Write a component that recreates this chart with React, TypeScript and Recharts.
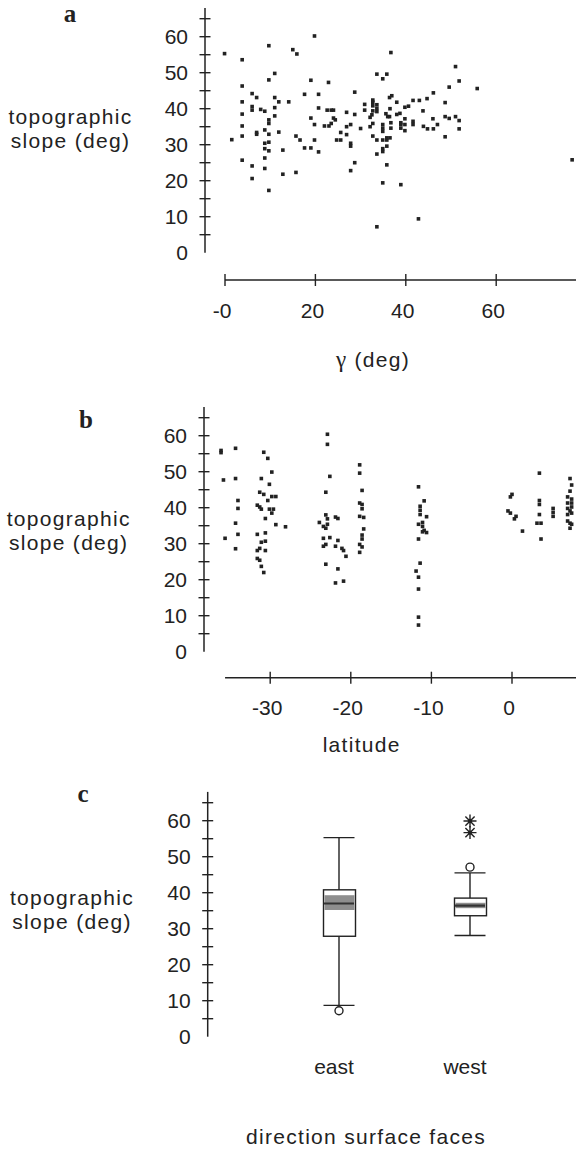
import React from "react"
import { ScatterChart, ComposedChart, Scatter, Bar, XAxis, YAxis, ReferenceLine } from "recharts"

const INK = "#222"
const FONT = '"Liberation Sans", Arial, Helvetica, sans-serif'

// shared slope axis (deg)
const slopeTicks = [0, 5, 10, 15, 20, 25, 30, 35, 40, 45, 50, 55, 60, 65]
const slopeTop = 68

// panel a: gamma (deg) vs slope
const gammaTicks = [0, 20, 40, 60]
const gammaTickLabels = ["-0", "20", "40", "60"]
const gammaPoints: [number, number][] = [
  [19.8, 60.2], [9.7, 57.5], [-0.1, 55.3], [15.0, 56.4], [15.9, 55.2], [36.7, 55.6], [3.8, 53.6], [51.0, 51.7],
  [11.0, 49.8], [9.7, 48.0], [33.6, 49.6], [35.8, 49.6], [34.9, 48.3], [19.0, 47.9], [22.9, 47.3], [51.8, 47.7],
  [3.8, 46.3], [49.6, 46.0], [55.8, 45.6], [28.7, 44.6], [46.1, 44.4], [6.0, 44.2], [17.6, 44.0], [20.7, 44.0],
  [7.0, 43.1], [11.0, 43.1], [36.4, 43.1], [36.9, 43.6], [44.7, 42.8], [3.8, 41.9], [11.9, 41.9], [14.1, 41.9],
  [32.7, 41.8], [38.0, 41.8], [41.6, 42.3], [43.0, 42.3], [48.7, 41.7], [32.7, 42.4],
  [6.0, 40.6], [6.0, 39.6], [7.9, 39.8], [8.8, 39.3], [11.0, 40.3], [30.9, 41.2], [32.7, 40.8], [33.6, 41.1],
  [33.6, 40.1], [32.7, 39.4], [33.6, 39.2], [20.7, 40.2], [22.6, 39.6], [23.5, 39.6], [24.0, 39.6], [36.5, 40.0],
  [39.8, 40.4], [40.6, 40.7], [43.8, 39.4], [38.7, 38.7],
  [3.8, 38.5], [11.0, 38.0], [26.9, 39.0], [28.7, 38.4], [30.9, 39.6], [32.1, 37.6], [32.5, 38.3], [35.6, 38.6],
  [36.0, 37.8], [38.0, 38.4], [19.0, 37.4], [24.0, 37.4], [24.4, 36.9], [9.7, 36.9], [9.7, 35.9], [39.8, 37.2],
  [38.9, 36.1], [39.8, 35.6], [41.6, 36.5], [41.6, 35.6], [46.0, 37.2], [48.7, 37.8], [49.6, 37.3], [51.0, 37.8],
  [51.8, 36.7], [36.4, 37.8],
  [3.8, 35.2], [19.8, 35.6], [22.0, 35.2], [23.0, 35.2], [23.5, 35.9], [27.8, 35.6], [26.9, 35.0], [30.0, 34.5],
  [32.1, 35.0], [32.7, 35.9], [34.9, 35.6], [34.9, 34.6], [34.9, 33.7], [36.7, 36.1], [36.7, 34.6], [38.9, 35.6],
  [38.9, 34.6], [39.8, 33.9], [43.9, 35.1], [44.8, 34.4], [46.1, 34.4], [47.0, 35.6], [51.8, 34.4],
  [8.8, 34.1], [7.0, 33.4], [7.0, 32.9], [9.7, 32.9], [11.9, 33.5], [3.8, 32.4], [1.5, 31.4], [15.7, 32.4],
  [16.6, 31.3], [19.8, 31.3], [25.6, 33.4], [26.9, 32.8], [24.7, 31.3], [25.6, 31.3], [32.7, 32.4], [33.6, 31.3],
  [35.8, 31.3], [34.9, 31.3], [35.8, 31.9], [36.5, 31.9], [48.7, 32.2],
  [8.8, 30.4], [9.7, 30.7], [8.8, 28.9], [9.7, 28.3], [27.8, 30.4], [27.8, 29.6], [35.8, 29.6], [34.9, 28.9],
  [34.9, 28.1], [17.6, 29.1], [19.0, 29.1], [12.8, 28.5], [20.7, 28.0], [8.8, 26.3], [33.6, 27.4], [3.8, 25.7],
  [76.8, 25.8], [28.7, 25.0], [6.0, 24.1], [8.8, 23.4], [35.8, 24.4], [27.8, 22.8], [12.8, 21.8], [15.7, 22.3],
  [6.0, 20.6], [34.9, 19.4], [38.9, 18.9], [9.7, 17.3], [42.8, 9.4], [33.6, 7.2],
]

// panel b: latitude vs slope
const latTicks = [-30, -20, -10, 0]
const latTickLabels = ["-30", "-20", "-10", "0"]
const latitudePoints: [number, number][] = [
  [-36.1, 55.9], [-36.1, 55.3], [-35.8, 47.7], [-35.6, 31.5],
  [-34.3, 56.5], [-34.3, 48.1], [-34.0, 42.0], [-34.0, 39.8], [-34.3, 35.7], [-34.0, 32.6], [-34.3, 28.6],
  [-30.8, 55.4], [-30.3, 53.7], [-29.8, 49.9], [-31.1, 48.1], [-30.1, 46.5], [-31.3, 44.3], [-30.8, 43.7],
  [-30.3, 42.0], [-29.8, 43.1], [-29.3, 43.1], [-31.6, 40.7], [-31.3, 40.2], [-31.1, 39.6], [-30.1, 39.6],
  [-29.6, 39.6], [-29.8, 38.5], [-30.6, 37.0], [-29.3, 35.3], [-28.1, 34.7], [-31.6, 32.6], [-30.6, 33.0],
  [-31.1, 30.4], [-30.6, 30.7], [-31.6, 28.1], [-31.3, 28.7], [-30.6, 28.1], [-31.6, 25.9], [-31.3, 25.4],
  [-31.1, 23.7], [-30.8, 22.0],
  [-22.9, 60.4], [-22.9, 57.6], [-22.6, 48.7], [-23.1, 44.3], [-23.1, 38.0], [-22.9, 36.9], [-21.9, 37.4],
  [-21.6, 37.0], [-23.9, 35.9], [-23.4, 34.8], [-22.9, 35.4], [-23.1, 34.3], [-23.4, 31.5], [-22.6, 31.7],
  [-23.4, 29.3], [-23.1, 29.8], [-21.9, 29.3], [-21.1, 28.7], [-20.9, 28.1], [-21.6, 30.9], [-20.6, 26.5],
  [-23.1, 24.3], [-21.6, 23.0], [-21.9, 19.1], [-20.9, 19.6],
  [-18.9, 51.9], [-18.9, 49.6], [-18.6, 44.8], [-18.9, 41.3], [-18.6, 40.9], [-18.6, 39.7], [-18.9, 37.6],
  [-18.4, 37.3], [-18.4, 34.1], [-18.6, 32.4], [-18.6, 31.3], [-18.9, 29.8], [-18.6, 29.1], [-18.9, 27.6],
  [-11.6, 45.8], [-10.9, 41.9], [-11.4, 40.4], [-11.4, 39.3], [-11.4, 38.1], [-10.6, 37.5], [-11.6, 35.4],
  [-11.1, 34.8], [-10.9, 33.7], [-11.1, 33.3], [-11.6, 31.3], [-10.6, 33.1], [-11.1, 35.9], [-11.4, 24.6],
  [-11.9, 22.4], [-11.6, 20.7], [-11.6, 17.4], [-11.6, 9.6], [-11.6, 7.4],
  [0.0, 43.7], [-0.2, 43.0], [-0.5, 39.1], [-0.2, 38.5], [0.5, 37.6], [0.3, 36.9], [1.3, 33.5],
  [3.4, 49.6], [3.4, 42.0], [3.4, 40.9], [3.4, 38.1], [3.1, 35.7], [3.6, 35.7], [3.6, 31.3],
  [5.1, 39.8], [5.1, 38.7], [5.1, 37.6],
  [7.2, 48.1], [7.4, 46.3], [7.2, 44.6], [6.9, 43.0], [7.4, 42.4], [6.9, 41.3], [7.4, 41.3], [6.9, 39.8],
  [7.4, 40.2], [7.2, 39.1], [6.9, 38.1], [7.4, 38.5], [6.9, 36.3], [7.2, 35.7], [7.4, 35.4], [7.2, 34.3],
]

// panel c: box plot by direction
const directions = ["east", "west"]
const boxLow = [8.7, 28.1]
const boxQ1 = [27.9, 33.6]
const boxCiLow = [35.2, 35.7]
const boxMedian = [37.0, 36.4]
const boxCiHigh = [39.3, 37.2]
const boxQ3 = [40.8, 38.5]
const boxHigh = [55.3, 45.5]
const outsideValues = [{ dir: "east", v: 7.2 }, { dir: "west", v: 47.1 }]
const farOutValues = [{ dir: "west", v: 59.9 }, { dir: "west", v: 56.7 }]

const boxRows = directions.map((dir, i) => ({
  dir,
  low: boxLow[i], q1: boxQ1[i], ciLo: boxCiLow[i], median: boxMedian[i],
  ciHi: boxCiHigh[i], q3: boxQ3[i], high: boxHigh[i],
}))
const medianRows = directions.map((dir, i) => ({ dir, v: boxMedian[i] }))

const Square = (p: any) => <rect x={p.cx - 1.8} y={p.cy - 1.8} width={3.6} height={3.6} fill={INK} />

const SlopeTick = (p: any) => {
  const v = p.payload.value
  return (
    <g>
      {v > 0 && <line x1={p.x - 5.5} x2={p.x + 5.5} y1={p.y} y2={p.y} stroke={INK} strokeWidth={1.4} />}
      {v % 10 === 0 && v <= 60 && (
        <text x={p.x - 17} y={p.y} dy="0.36em" textAnchor="end" fontSize={21} fill={INK} fontFamily={FONT}>
          {v}
        </text>
      )}
    </g>
  )
}

const makeXTick = (ticks: number[], labels: string[]) => (p: any) => {
  const i = ticks.indexOf(p.payload.value)
  return (
    <g>
      <line x1={p.x} x2={p.x} y1={p.y - 6} y2={p.y + 6} stroke={INK} strokeWidth={1.4} />
      <text x={p.x - 3} y={p.y + 30} dy="0.36em" textAnchor="middle" fontSize={21} fill={INK} fontFamily={FONT}>
        {labels[i]}
      </text>
    </g>
  )
}
const GammaTick = makeXTick(gammaTicks, gammaTickLabels)
const LatTick = makeXTick(latTicks, latTickLabels)

const DirTick = (p: any) => (
  <text x={p.x - 5} y={p.y + 30} dy="0.36em" textAnchor="middle" fontSize={21} fill={INK} fontFamily={FONT}>
    {p.payload.value}
  </text>
)

const span = (p: any) => {
  const top = Math.min(p.y, p.y + p.height)
  const bot = Math.max(p.y, p.y + p.height)
  return { cx: p.x + p.width / 2, top, bot, half: p.width / 2 }
}

const Whisker = (p: any) => {
  const { cx, top, bot, half } = span(p)
  return (
    <g stroke={INK} strokeWidth={1.4}>
      <line x1={cx} x2={cx} y1={top} y2={bot} />
      <line x1={cx - half} x2={cx + half} y1={top} y2={top} />
      <line x1={cx - half} x2={cx + half} y1={bot} y2={bot} />
    </g>
  )
}

const BoxShape = (p: any) => {
  const { cx, top, bot, half } = span(p)
  return <rect x={cx - half} y={top} width={half * 2} height={bot - top} fill="#fff" stroke={INK} strokeWidth={1.4} />
}

const CiShape = (p: any) => {
  const { cx, top, bot, half } = span(p)
  return <rect x={cx - half} y={top} width={half * 2} height={bot - top} fill="#8e8e8e" />
}

const MedianLine = (p: any) => (
  <line x1={p.cx - 15} x2={p.cx + 15} y1={p.cy} y2={p.cy} stroke="#333" strokeWidth={2.2} />
)

const OpenCircle = (p: any) => <circle cx={p.cx} cy={p.cy} r={4} fill="#fff" stroke={INK} strokeWidth={1.4} />

const Asterisk = (p: any) => (
  <g stroke={INK} strokeWidth={1.4}>
    {[0, 45, 90, 135].map((a) => {
      const r = 6.5
      const dx = Math.cos((a * Math.PI) / 180) * r
      const dy = Math.sin((a * Math.PI) / 180) * r
      return <line key={a} x1={p.cx - dx} x2={p.cx + dx} y1={p.cy - dy} y2={p.cy + dy} />
    })}
    <circle cx={p.cx} cy={p.cy} r={2.2} fill={INK} stroke="none" />
  </g>
)

const Label = ({ x, y, children, size = 21, style }: any) => (
  <div
    style={{
      position: "absolute", left: x, top: y, transform: "translate(-50%, -50%)",
      fontFamily: FONT, fontSize: size, lineHeight: "24px", letterSpacing: "1.3px",
      color: INK, whiteSpace: "nowrap", textAlign: "center", ...style,
    }}
  >
    {children}
  </div>
)

const Letter = ({ x, y, children }: any) => (
  <Label x={x} y={y} size={25} style={{ fontFamily: '"Liberation Serif", "Times New Roman", serif', fontWeight: 700, lineHeight: "25px", letterSpacing: 0 }}>
    {children}
  </Label>
)

const SlopeLabel = ({ x, y }: any) => (
  <Label x={x} y={y}>
    topographic
    <br />
    slope (deg)
  </Label>
)

// slope axis geometry: 3.6 px per degree
const K = 3.6

function ScatterPanel({ top, zeroY, axisY, leftX, xDomain, xStart, ticks, tick, points }: any) {
  const chartH = 400
  const yMin = -(axisY - zeroY) / K
  const plotTop = zeroY - slopeTop * K - top
  const plotBottom = axisY - top
  const data = points.map(([x, y]: [number, number]) => ({ x, y }))
  return (
    <div style={{ position: "absolute", left: 0, top }}>
      <ScatterChart width={576} height={chartH} margin={{ top: plotTop, right: 0, bottom: chartH - plotBottom - 30, left: leftX - 60 }}>
        <XAxis type="number" dataKey="x" domain={xDomain} ticks={ticks} interval={0} allowDataOverflow
          axisLine={false} tickLine={false} tickSize={0} tickMargin={0} height={30} tick={tick} />
        <YAxis type="number" dataKey="y" domain={[yMin, slopeTop]} ticks={slopeTicks} interval={0} allowDataOverflow
          axisLine={false} tickLine={false} tickSize={0} tickMargin={0} width={60} tick={SlopeTick} />
        <ReferenceLine segment={[{ x: xDomain[0], y: 0 }, { x: xDomain[0], y: slopeTop }]} stroke={INK} strokeWidth={1.5} ifOverflow="visible" />
        <ReferenceLine segment={[{ x: xStart, y: yMin }, { x: xDomain[1], y: yMin }]} stroke={INK} strokeWidth={1.5} ifOverflow="visible" />
        <Scatter data={data} shape={Square} isAnimationActive={false} />
      </ScatterChart>
    </div>
  )
}

export default function App() {
  const pad = { left: 65.8, right: 40.5 }
  const cTop = 780
  const cZero = 1036.7
  const cPlotTop = cZero - slopeTop * K - cTop
  const cPlotBottom = cZero - cTop
  return (
    <div style={{ position: "absolute", left: 0, top: 0, width: 576, height: 1149, background: "#fff", overflow: "hidden" }}>
      <ScatterPanel top={0} zeroY={252.7} axisY={280} leftX={205}
        xDomain={[(205 - 225) / 4.52, (576 - 225) / 4.52]} xStart={0}
        ticks={gammaTicks} tick={GammaTick} points={gammaPoints} />
      <ScatterPanel top={399} zeroY={651.7} axisY={677.7} leftX={204}
        xDomain={[(204 - 512) / 8.06, (576 - 512) / 8.06]} xStart={-35.6}
        ticks={latTicks} tick={LatTick} points={latitudePoints} />

      <div style={{ position: "absolute", left: 0, top: cTop }}>
        <ComposedChart width={576} height={369} data={boxRows}
          margin={{ top: cPlotTop, right: 0, bottom: 0, left: 207.7 - 60 }}>
          <XAxis xAxisId="lab" dataKey="dir" type="category" allowDuplicatedCategory={false} padding={pad} interval={0}
            axisLine={false} tickLine={false} tickSize={0} tickMargin={0} height={369 - cPlotBottom} tick={DirTick} />
          <XAxis xAxisId="whisk" dataKey="dir" type="category" allowDuplicatedCategory={false} padding={pad} height={0} hide />
          <XAxis xAxisId="box" dataKey="dir" type="category" allowDuplicatedCategory={false} padding={pad} height={0} hide />
          <XAxis xAxisId="ci" dataKey="dir" type="category" allowDuplicatedCategory={false} padding={pad} height={0} hide />
          <YAxis type="number" domain={[0, slopeTop]} ticks={slopeTicks} interval={0} allowDataOverflow
            axisLine={{ stroke: INK, strokeWidth: 1.5 }} tickLine={false} tickSize={0} tickMargin={0} width={60} tick={SlopeTick} />
          <Bar xAxisId="whisk" dataKey={(d: any) => [d.low, d.high]} barSize={31} shape={Whisker} isAnimationActive={false} />
          <Bar xAxisId="box" dataKey={(d: any) => [d.q1, d.q3]} barSize={32} shape={BoxShape} isAnimationActive={false} />
          <Bar xAxisId="ci" dataKey={(d: any) => [d.ciLo, d.ciHi]} barSize={30} shape={CiShape} isAnimationActive={false} />
          <Scatter xAxisId="lab" data={medianRows} dataKey="v" shape={MedianLine} isAnimationActive={false} />
          <Scatter xAxisId="lab" data={outsideValues} dataKey="v" shape={OpenCircle} isAnimationActive={false} />
          <Scatter xAxisId="lab" data={farOutValues} dataKey="v" shape={Asterisk} isAnimationActive={false} />
        </ComposedChart>
      </div>

      <Letter x={70} y={12.5}>a</Letter>
      <Letter x={86} y={418.6}>b</Letter>
      <Letter x={83} y={793}>c</Letter>

      <SlopeLabel x={70.5} y={128.5} />
      <SlopeLabel x={68.7} y={530.8} />
      <SlopeLabel x={72} y={910} />

      <Label x={373} y={360}>
        <span style={{ fontFamily: '"Liberation Serif", "Times New Roman", serif', fontSize: 23 }}>γ</span> (deg)
      </Label>
      <Label x={361.7} y={745}>latitude</Label>
      <Label x={366} y={1137}>direction surface faces</Label>
    </div>
  )
}
